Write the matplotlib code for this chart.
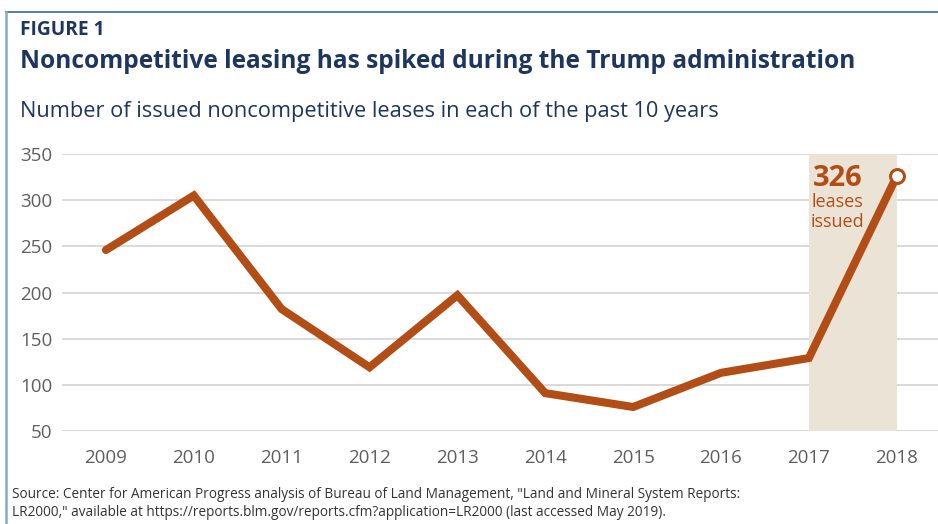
import matplotlib
matplotlib.use("Agg")
import matplotlib.pyplot as plt
from matplotlib.lines import Line2D

years = [2009, 2010, 2011, 2012, 2013, 2014, 2015, 2016, 2017, 2018]
leases = [246, 305, 182, 119, 197, 91, 76, 113, 129, 326]
yticks = [50, 100, 150, 200, 250, 300, 350]
highlight_start, highlight_end = 2017, 2018

FIG_W, FIG_H = 938, 524
DPI = 100
plt.rcParams['font.family'] = ['Open Sans', 'DejaVu Sans']

NAVY = '#1d3660'
ORANGE = '#b24d15'
GRAY = '#5f5f5f'

fig = plt.figure(figsize=(FIG_W / DPI, FIG_H / DPI), dpi=DPI)

def px(x, y):
    return x / FIG_W, 1 - y / FIG_H

# axes: left 62, right 938, top 154 (350), bottom 431 (50)
l, t, r, b = 62, 154, 938, 431
ax = fig.add_axes([l / FIG_W, 1 - b / FIG_H, (r - l) / FIG_W, (b - t) / FIG_H])
ax.set_xlim(2008.5, 2018.47)
ax.set_ylim(50, 350)
for s in ax.spines.values():
    s.set_visible(False)
ax.set_yticks(yticks)
ax.set_xticks(years)
ax.tick_params(length=0, labelsize=13.5, labelcolor=GRAY)
ax.tick_params(axis='y', pad=7)
ax.tick_params(axis='x', pad=13)
ax.grid(axis='y', color='#d9d9d9', linewidth=1.4)
ax.set_axisbelow(True)

ax.axvspan(highlight_start, highlight_end, color='#ebe3d6', zorder=1, lw=0)
ax.plot(years, leases, color=ORANGE, lw=5.8, solid_capstyle='round',
        solid_joinstyle='miter', zorder=3, clip_on=False)
ax.plot([years[-1]], [leases[-1]], 'o', ms=10, mfc='white', mec=ORANGE,
        mew=2.2, zorder=4, clip_on=False)

# annotation
ax.text(2017.33, 324, str(leases[-1]), color=ORANGE, fontsize=21,
        fontweight='bold', ha='center', va='center', zorder=5)
ax.text(2017.33, 298, 'leases', color=ORANGE, fontsize=13,
        ha='center', va='center', zorder=5)
ax.text(2017.33, 276, 'issued', color=ORANGE, fontsize=13,
        ha='center', va='center', zorder=5)

fig.canvas.draw()
renderer = fig.canvas.get_renderer()

def fit_text(x, y, s, width, size, **kw):
    tt = fig.text(*px(x, y), s, fontsize=size, **kw)
    w = tt.get_window_extent(renderer).width
    tt.set_fontsize(size * width / w)
    return tt

fit_text(20, 30, 'FIGURE 1', 84, 13, fontweight='bold', color=NAVY, va='center')
fit_text(20, 62, 'Noncompetitive leasing has spiked during the Trump administration',
         837, 20, fontweight='bold', color=NAVY, va='center')
fit_text(20, 111, 'Number of issued noncompetitive leases in each of the past 10 years',
         696, 16, color=NAVY, va='center')
s1 = fit_text(12, 494, 'Source: Center for American Progress analysis of Bureau of Land Management, "Land and Mineral System Reports:',
              725, 10, color='#333333', va='center')
fig.text(*px(12, 512), 'LR2000," available at https://reports.blm.gov/reports.cfm?application=LR2000 (last accessed May 2019).',
         fontsize=s1.get_fontsize(), color='#333333', va='center')

# frame lines
fig.add_artist(Line2D([6 / FIG_W, 1], [1 - 12 / FIG_H] * 2, color='#2f69a3', lw=1.2))
fig.add_artist(Line2D([6 / FIG_W] * 2, [0, 1 - 12 / FIG_H], color='#86abcb', lw=1.8))

fig.savefig('out.png', dpi=DPI)
